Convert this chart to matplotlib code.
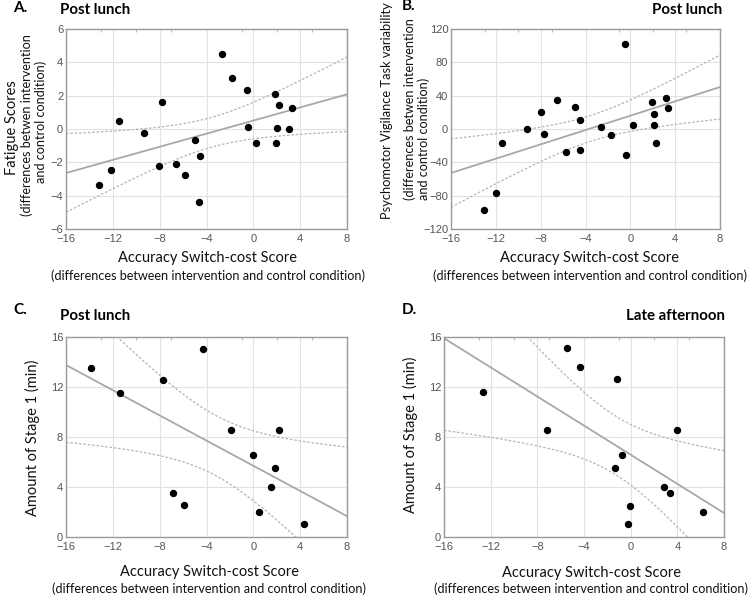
import numpy as np
import matplotlib
matplotlib.use("Agg")
import matplotlib.pyplot as plt

# panel A: fatigue vs accuracy switch-cost (post lunch)
a_x = [-13.15, -12.12, -11.5, -9.3, -8.02, -7.79, -6.6, -5.82, -4.97, -4.63, -4.57,
       -2.66, -1.78, -0.55, -0.44, 0.19, 1.87, 1.96, 1.99, 2.16, 3.04, 3.3]
a_y = [-3.37, -2.44, 0.46, -0.26, -2.24, 1.64, -2.12, -2.76, -0.64, -4.37, -1.62,
       4.49, 3.08, 2.32, 0.14, -0.84, 2.08, -0.82, 0.06, 1.46, 0.02, 1.26]

# panel B: PVT variability (post lunch)
b_x = [-13.09, -12.02, -11.45, -9.19, -7.98, -7.71, -6.55, -5.75, -4.92, -4.53, -4.53,
       -2.6, -1.71, -0.46, -0.37, 0.26, 1.95, 2.07, 2.1, 2.25, 3.14, 3.35]
b_y = [-97.2, -76.9, -17.0, 0.2, 20.6, -5.8, 34.5, -27.8, 26.6, 11.4, -25.4,
       2.2, -6.6, 102.0, -31.7, 4.6, 32.9, 18.2, 5.4, -16.6, 37.7, 25.8]

# panel C: stage 1 (post lunch)
c_x = [-13.85, -11.35, -7.71, -6.85, -5.91, -4.29, -1.93, 0.0, 0.51, 1.51, 1.82, 2.22, 4.29]
c_y = [13.56, 11.54, 12.55, 3.51, 2.53, 15.08, 8.54, 6.54, 2.02, 4.02, 5.56, 8.54, 1.01]

# panel D: stage 1 (late afternoon)
d_x = [-12.66, -7.16, -5.44, -4.38, -1.2, -1.35, -0.77, -0.23, -0.06, 2.84, 3.41, 4.01, 6.22]
d_y = [11.59, 8.57, 15.14, 13.6, 12.61, 5.56, 6.57, 1.01, 2.51, 4.03, 3.53, 8.57, 2.03]

x_ticks = [-16, -12, -8, -4, 0, 4, 8]
t_crit = {20: 2.086, 11: 2.201}  # 95% two-sided t values

label_font = "Lato"
tick_font = "Liberation Sans"
grey = "#9a9a9a"

fig = plt.figure(figsize=(7.5, 5.95), dpi=100)


def px_ax(left, top, right, bottom):
    W, H = 750.0, 595.0
    return fig.add_axes([left / W, 1 - bottom / H, (right - left) / W, (bottom - top) / H])


def fig_text(x, y, s, **kw):
    fig.text(x / 750.0, 1 - y / 595.0, s, **kw)


def draw_panel(ax, x, y, yticks):
    x = np.asarray(x)
    y = np.asarray(y)
    slope, icpt = np.polyfit(x, y, 1)
    xs = np.linspace(-16, 8, 200)
    fit = icpt + slope * xs
    n = len(x)
    resid = y - (icpt + slope * x)
    s = np.sqrt(np.sum(resid ** 2) / (n - 2))
    sxx = np.sum((x - x.mean()) ** 2)
    half = t_crit[n - 2] * s * np.sqrt(1.0 / n + (xs - x.mean()) ** 2 / sxx)

    ax.plot(xs, fit, color="#a8a8a8", lw=1.3, zorder=2)
    ax.plot(xs, fit + half, color="#b4b4b4", lw=0.9, ls=(0, (2, 1.5)), zorder=2)
    ax.plot(xs, fit - half, color="#b4b4b4", lw=0.9, ls=(0, (2, 1.5)), zorder=2)
    ax.plot(x, y, "o", color="black", ms=4.3, zorder=3)

    ax.set_xlim(-16, 8)
    ax.set_ylim(yticks[0], yticks[-1])
    ax.set_xticks(x_ticks)
    ax.set_yticks(yticks)
    ax.grid(True, color="#e2e2e2", lw=0.8)
    ax.set_axisbelow(True)
    for sp in ax.spines.values():
        sp.set_color(grey)
        sp.set_linewidth(1.0)
    ax.tick_params(length=0, labelsize=8, labelcolor="#555555")
    ax.tick_params(axis="x", pad=3.5)
    ax.tick_params(axis="y", pad=2)
    for lab in ax.get_xticklabels() + ax.get_yticklabels():
        lab.set_family(tick_font)
    # small inner ticks on the top edge (every 3 units)
    top = ax.secondary_xaxis("top")
    top.set_xticks(list(range(-16, 9, 3)))
    top.tick_params(direction="in", length=2, color="#bbbbbb", labeltop=False)
    top.spines["top"].set_visible(False)


axA = px_ax(66, 29, 347, 229)
draw_panel(axA, a_x, a_y, [-6, -4, -2, 0, 2, 4, 6])
axB = px_ax(451, 29, 720, 229)
draw_panel(axB, b_x, b_y, [-120, -80, -40, 0, 40, 80, 120])
axC = px_ax(66, 337, 347, 537)
draw_panel(axC, c_x, c_y, [0, 4, 8, 12, 16])
axD = px_ax(444, 337, 724, 537)
draw_panel(axD, d_x, d_y, [0, 4, 8, 12, 16])

bold = dict(family=label_font, fontweight="bold", va="center")
big = dict(family=label_font, fontsize=10.5, color="#111111")
small = dict(family=label_font, fontsize=9.1, color="#111111")

# panel letters and titles
fig_text(13, 8, "A.", ha="left", fontsize=11, **bold)
fig_text(402, 6, "B.", ha="left", fontsize=11, **bold)
fig_text(13, 310, "C.", ha="left", fontsize=11, **bold)
fig_text(402, 310, "D.", ha="left", fontsize=11, **bold)
fig_text(60, 10, "Post lunch", ha="left", fontsize=10.8, **bold)
fig_text(722, 10, "Post lunch", ha="right", fontsize=10.8, **bold)
fig_text(60, 316, "Post lunch", ha="left", fontsize=10.8, **bold)
fig_text(725, 316, "Late afternoon", ha="right", fontsize=10.8, **bold)

# x labels
sub_x = "(differences between intervention and control condition)"
for cx, y1, y2 in [(208, 258, 276), (590, 258, 276), (209, 572, 589), (591, 573, 589)]:
    fig_text(cx, y1, "Accuracy Switch-cost Score", ha="center", va="center", **big)
    fig_text(cx, y2, sub_x, ha="center", va="center", **small)

# y labels
fig_text(12, 128, "Fatigue Scores", ha="center", va="center", rotation=90, **big)
fig_text(27, 125, "(differences betwen intervention", ha="center", va="center", rotation=90, **small)
fig_text(41, 122, "and control condition)", ha="center", va="center", rotation=90, **small)

fig_text(387, 111, "Psychomotor Vigilance Task variability", ha="center", va="center", rotation=90,
         family=label_font, fontsize=9.3, color="#111111")
fig_text(410, 200, "(differences betwen intervention", ha="left", va="center", rotation=90,
         rotation_mode="anchor", **small)
fig_text(424, 200, "and control condition)", ha="left", va="center", rotation=90,
         rotation_mode="anchor", **small)

fig_text(32, 438, "Amount of Stage 1 (min)", ha="center", va="center", rotation=90, **big)
fig_text(410, 435, "Amount of Stage 1 (min)", ha="center", va="center", rotation=90, **big)

fig.savefig("out.png", dpi=100)
